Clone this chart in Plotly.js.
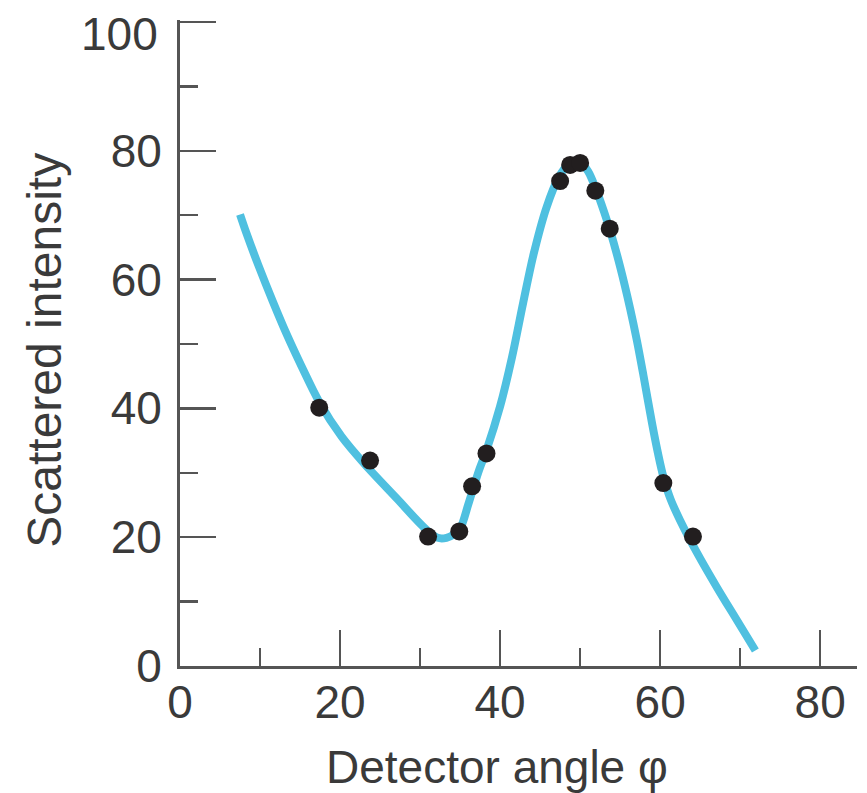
<!DOCTYPE html>
<html>
<head>
<meta charset="utf-8">
<script src="https://cdn.plot.ly/plotly-3.0.1.min.js"></script>
<style>html,body{margin:0;padding:0;background:#fff;}#chart{width:867px;height:793px;}</style>
</head>
<body>
<div id="chart"></div>
<script>
// Fitted curve
const curveX = [7.5, 8.3, 9.8, 11.6, 13.3, 15.2, 17.4, 20.2, 23.1, 27.1, 30.6, 32.2, 33.3, 34.3, 35.0, 36.0, 36.5, 37.4, 38.3, 40.0, 41.5, 42.9, 44.2, 45.8, 47.3, 48.6, 49.5, 50.0, 51.0, 51.9, 53.0, 53.75, 55.0, 56.25, 57.1, 57.9, 59.0, 59.7, 60.4, 61.3, 62.5, 64.6, 67.1, 69.6, 71.9];
const curveY = [70.1, 67.2, 62.2, 56.6, 51.6, 46.5, 41.0, 35.6, 31.3, 26.0, 21.4, 19.9, 19.9, 20.5, 21.3, 25.0, 27.0, 30.5, 33.5, 40.3, 48.0, 56.5, 64.0, 71.2, 75.8, 78.0, 78.5, 78.3, 76.8, 74.3, 70.5, 67.6, 62.0, 55.5, 50.5, 45.2, 37.6, 33.2, 29.4, 25.9, 22.6, 17.6, 12.2, 7.1, 2.4];
// Measured points
const pointsX = [17.4, 23.75, 31.0, 34.9, 36.5, 38.3, 47.5, 48.75, 50.0, 51.9, 53.7, 60.4, 64.1];
const pointsY = [40.1, 31.9, 20.1, 20.9, 27.9, 33.0, 75.3, 77.8, 78.1, 73.8, 67.9, 28.4, 20.1];
const xTicks = [0, 20, 40, 60, 80];
const yTicks = [0, 20, 40, 60, 80, 100];
const yTickText = ['0', '20', '40', '60', '80', ''];   // "100" drawn below its tick, as in the reference
const topLabel = '100';
const xTitle = 'Detector angle φ';
const yTitle = 'Scattered intensity';

const axisColor = '#555555';
const textColor = '#3a3a3a';
const font = 'Liberation Sans, Arial, Helvetica, sans-serif';

const traces = [
  {x: curveX, y: curveY, type: 'scatter', mode: 'lines', line: {color: '#4fc0e0', width: 8, shape: 'spline', smoothing: 0.9}, hoverinfo: 'skip'},
  {x: pointsX, y: pointsY, type: 'scatter', mode: 'markers', marker: {color: '#221e1f', size: 18}}
];

const layout = {
  width: 867, height: 793,
  margin: {l: 180, r: 10, t: 20, b: 127},
  paper_bgcolor: '#ffffff', plot_bgcolor: '#ffffff',
  showlegend: false,
  font: {family: font, color: textColor, size: 46},
  xaxis: {
    range: [0, 84.6], showgrid: false, zeroline: false,
    showline: true, linecolor: axisColor, linewidth: 3,
    tickmode: 'array', tickvals: xTicks, ticktext: xTicks.map(String),
    ticks: 'inside', ticklen: 36, tickwidth: 2.5, tickcolor: axisColor,
    minor: {tickmode: 'array', tickvals: [10, 30, 50, 70], ticks: 'inside', ticklen: 18, tickwidth: 2.5, tickcolor: axisColor},
    tickfont: {family: font, size: 46, color: textColor},
    ticklabelstandoff: -6, ticklabeloverflow: 'allow'
  },
  yaxis: {
    range: [0, 100.3], showgrid: false, zeroline: false,
    showline: true, linecolor: axisColor, linewidth: 3,
    tickmode: 'array', tickvals: yTicks, ticktext: yTickText,
    ticks: 'inside', ticklen: 36, tickwidth: 2.5, tickcolor: axisColor,
    minor: {tickmode: 'array', tickvals: [10, 30, 50, 70, 90], ticks: 'inside', ticklen: 18, tickwidth: 2.5, tickcolor: axisColor},
    tickfont: {family: font, size: 46, color: textColor},
    ticklabelstandoff: 6, ticklabeloverflow: 'allow'
  },
  annotations: [
    {text: topLabel, xref: 'paper', yref: 'paper', x: -0.0295, y: 0.978, xanchor: 'right', yanchor: 'middle', showarrow: false, font: {family: font, size: 46, color: textColor}},
    {text: xTitle, xref: 'paper', yref: 'paper', x: 0.468, y: -0.156, xanchor: 'center', yanchor: 'middle', showarrow: false, font: {family: font, size: 46, color: textColor}},
    {text: yTitle, xref: 'paper', yref: 'paper', x: -0.2, y: 0.489, xanchor: 'center', yanchor: 'middle', textangle: -90, showarrow: false, font: {family: font, size: 48, color: textColor}}
  ]
};

Plotly.newPlot('chart', traces, layout, {displayModeBar: false, staticPlot: true});
</script>
</body>
</html>
